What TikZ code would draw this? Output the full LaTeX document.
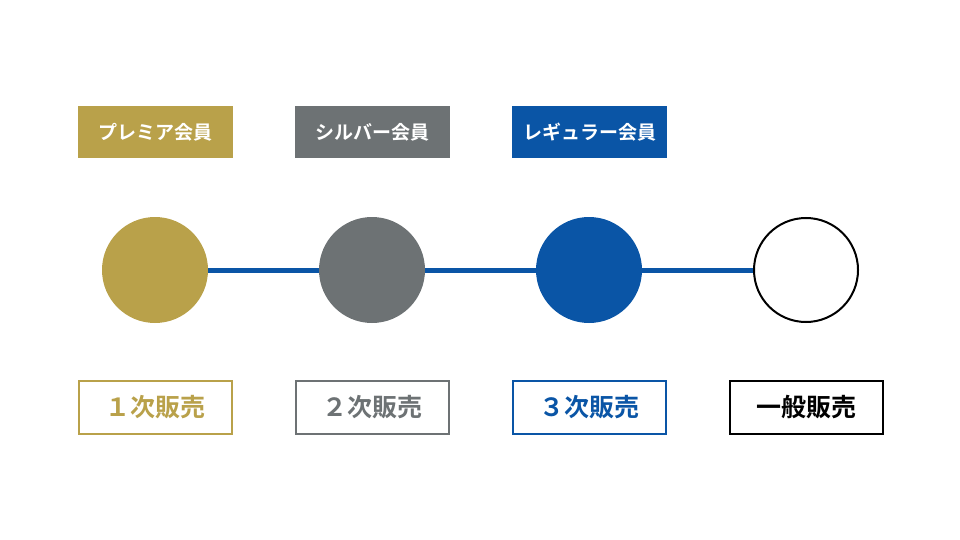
\documentclass[tikz,border=0pt]{standalone}
\usepackage{fontspec}
\newfontfamily\jp{Noto Sans CJK JP}[BoldFont={* Bold}]
\definecolor{gold}{HTML}{B9A14A}
\definecolor{gry}{HTML}{6D7274}
\definecolor{blu}{HTML}{0A55A6}
\begin{document}
\begin{tikzpicture}[x=1pt,y=-1pt,
  tag/.style={minimum width=155pt,minimum height=52pt,inner sep=0pt,text=white,font=\jp\bfseries\fontsize{19}{19}\selectfont},
  box/.style={minimum width=153pt,minimum height=53pt,inner sep=0pt,line width=2pt,fill=white,font=\jp\bfseries\fontsize{25}{25}\selectfont},
  dot/.style={circle,minimum size=106pt,inner sep=0pt}]
\useasboundingbox (0,0) rectangle (960,540);
\node[tag,fill=gold] (t1) at (155.5,132) {プレミア会員};
\node[tag,fill=gry] (t2) at (372.5,132) {シルバー会員};
\node[tag,fill=blu] (t3) at (589.5,132) {レギュラー会員};
\node[dot,fill=gold] (c1) at (155,270) {};
\node[dot,fill=gry] (c2) at (372,270) {};
\node[dot,fill=blu] (c3) at (589,270) {};
\node[dot,draw=black,line width=2pt,fill=white,minimum size=104pt] (c4) at (806,270) {};
\begin{scope}[on background layer/.style={}]
\end{scope}
\draw[blu,line width=5pt] (c1.east) -- (c2.west) (c2.east) -- (c3.west) (c3.east) -- (c4.west);
\node[box,draw=gold,text=gold] (b1) at (155.5,407.5) {１次販売};
\node[box,draw=gry,text=gry] (b2) at (372.5,407.5) {２次販売};
\node[box,draw=blu,text=blu] (b3) at (589.5,407.5) {３次販売};
\node[box,draw=black,text=black] (b4) at (806.5,407.5) {一般販売};
\end{tikzpicture}
\end{document}
